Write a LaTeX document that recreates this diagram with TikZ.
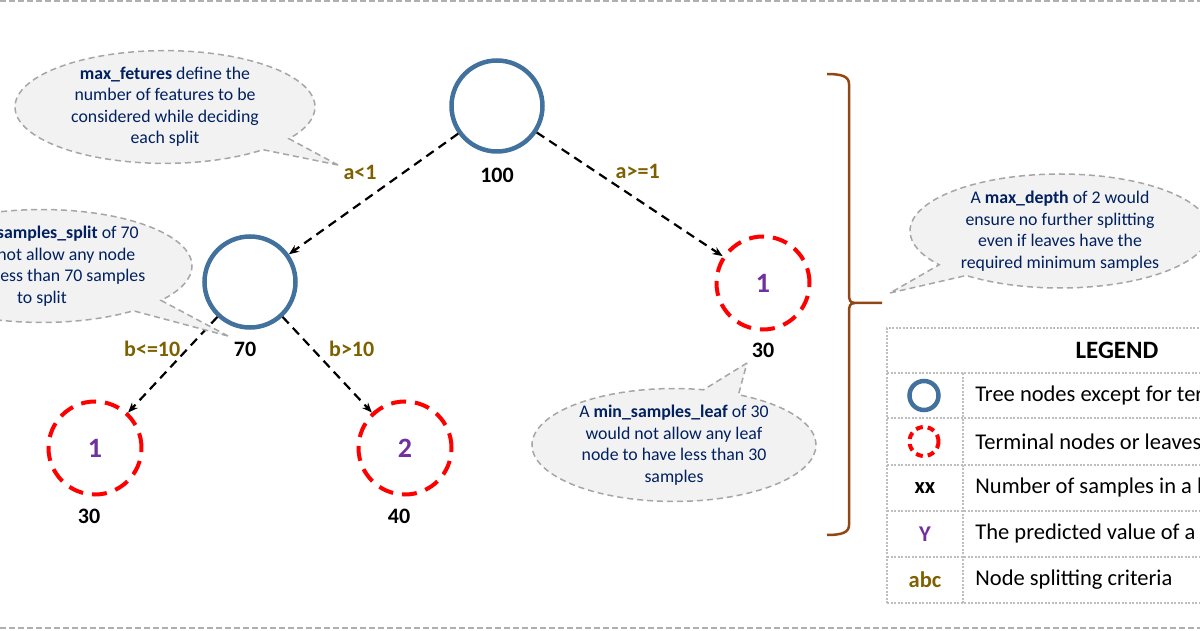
\documentclass[tikz,border=0pt]{standalone}
\usepackage{fontspec}
\setmainfont{Carlito}
\usetikzlibrary{positioning,shapes.callouts,arrows.meta}

\definecolor{nodeblue}{RGB}{65,113,156}
\definecolor{leafpurple}{RGB}{112,48,160}
\definecolor{critolive}{RGB}{127,96,0}
\definecolor{notetext}{RGB}{0,32,96}
\definecolor{notegray}{RGB}{166,166,166}
\definecolor{notefill}{RGB}{242,242,242}
\definecolor{bracebrown}{RGB}{145,70,20}
\definecolor{sheetgray}{RGB}{175,175,175}
\definecolor{leggray}{RGB}{190,190,190}

\begin{document}
\begin{tikzpicture}[x=1pt, y=1pt, on grid, thick,
    main/.style = {draw=nodeblue, circle, line width=4.5pt, minimum size=91pt},
    leaf/.style = {draw=red, circle, line width=4pt, dash pattern=on 15pt off 9pt, minimum size=93pt,
                   text=leafpurple, font=\fontsize{28}{30}\selectfont\bfseries},
    cnt/.style = {inner sep=0pt, font=\fontsize{22}{24}\selectfont\bfseries},
    crit/.style = {inner sep=0pt, text=critolive, font=\fontsize{22}{24}\selectfont\bfseries},
    arr/.style = {-{Stealth[length=10pt,width=8pt]}, line width=2.2pt, dash pattern=on 9pt off 6pt},
    note/.style = {ellipse callout, draw=notegray, fill=notefill, line width=1.5pt, dash pattern=on 6pt off 4pt,
                   inner sep=0pt, align=center, text=notetext, font=\fontsize{17.8}{21.5}\selectfont},
    curly/.style = {draw=bracebrown, line width=2.5pt},
    sheetline/.style = {draw=sheetgray, line width=2pt, dash pattern=on 6pt off 3pt},
    legline/.style = {draw=leggray, line width=2pt, dash pattern=on 2pt off 1.5pt},
    legtitle/.style = {font=\fontsize{25}{28}\selectfont\bfseries},
    legsym/.style = {font=\fontsize{22.5}{25}\selectfont\bfseries},
    legtext/.style = {anchor=west, inner sep=0pt, font=\fontsize{22.5}{25}\selectfont}]

    \useasboundingbox (0,0) rectangle (1200,630);
    \clip (0,0) rectangle (1200,630);

    % page lines
    \draw[sheetline] (0,629) -- (1200,629);
    \draw[sheetline] (0,2) -- (1200,2);

    % tree
    \node[main] (1) at (497,524) {};
    \node[main] (2) [below left=176pt and 247pt of 1] {};
    \node[leaf] (3) [below right=177pt and 266pt of 1] {1};
    \node[leaf] (4) [below left=166pt and 155pt of 2] {1};
    \node[leaf] (5) [below right=166pt and 155pt of 2] {2};

    \node[cnt] (n1) [below=69pt of 1] {100};
    \node[cnt] (n2) [below=67pt of 2, xshift=-5pt] {70};
    \node[cnt] (n3) [below=67pt of 3] {30};
    \node[cnt] (n4) [below=68pt of 4, xshift=-6pt] {30};
    \node[cnt] (n5) [below=68pt of 5, xshift=-6pt] {40};

    \draw[arr] (1) -- node[crit, xshift=-13.5pt, yshift=22pt] (e1) {a<1} (2);
    \draw[arr] (1) -- node[crit, xshift=8pt, yshift=22.5pt] (e2) {a>=1} (3);
    \draw[arr] (2) -- node[crit, xshift=-20.5pt, yshift=16pt] (e3) {b<=10} (4);
    \draw[arr] (2) -- node[crit, xshift=24.5pt, yshift=16pt] (e4) {b>10} (5);

    % brace
    \draw[curly] (827,556) .. controls (843,556) and (849,553) .. (849,546) -- (849,336)
        .. controls (849,330) and (850,327) .. (855,327) -- (882,327);
    \draw[curly] (855,327) .. controls (850,327) and (849,324) .. (849,318) -- (849,105)
        .. controls (849,98) and (843,95) .. (827,95);

    % callouts
    \coordinate (t1) at (338,465);
    \coordinate (t2) at (228,294);
    \coordinate (t3) at (747,267);
    \coordinate (t4) at (890,337);
    \node[note, minimum width=300pt, minimum height=108pt, callout absolute pointer={(t1)}] (c1) at (165,523)
        {\textbf{max\_fetures} define the\\number of features to be\\considered while deciding\\each split};
    \node[note, minimum width=300pt, minimum height=112pt, callout absolute pointer={(t2)}] (c2) at (42,364)
        {A \textbf{min\_samples\_split} of 70\\would not allow any node\\to have less than 70 samples\\to split};
    \node[note, minimum width=284pt, minimum height=104pt, callout absolute pointer={(t3)}] (c3) at (674,185)
        {A \textbf{min\_samples\_leaf} of 30\\would not allow any leaf\\node to have less than 30\\samples};
    \node[note, minimum width=300pt, minimum height=114pt, callout absolute pointer={(t4)}] (c4) at (1060,399)
        {A \textbf{max\_depth} of 2 would\\ensure no further splitting\\even if leaves have the\\required minimum samples};

    % legend
    \draw[legline] (887,27) rectangle (1215,302);
    \foreach \y in {257,212,165,119,73}
        \draw[legline] (887,\y) -- (1215,\y);
    \draw[legline] (963,27) -- (963,257);

    \node[legtitle] (lg) at (1117,280) {LEGEND};
    \node[main, minimum size=29pt] (s1) at (924,234.5) {};
    \node[leaf, minimum size=29pt, dash pattern=on 7pt off 5pt] (s2) at (924,188.5) {};
    \node[legsym] (s3) at (925,142) {xx};
    \node[legsym, text=leafpurple] (s4) at (925,96) {Y};
    \node[legsym, text=critolive] (s5) at (925,50) {abc};

    \node[legtext] (d1) at (975,234.5) {Tree nodes except for terminal nodes};
    \node[legtext] (d2) at (975,188.5) {Terminal nodes or leaves};
    \node[legtext] (d3) at (975,142) {Number of samples in a leaf};
    \node[legtext] (d4) at (975,96) {The predicted value of a leaf};
    \node[legtext] (d5) at (975,50) {Node splitting criteria};
\end{tikzpicture}
\end{document}
